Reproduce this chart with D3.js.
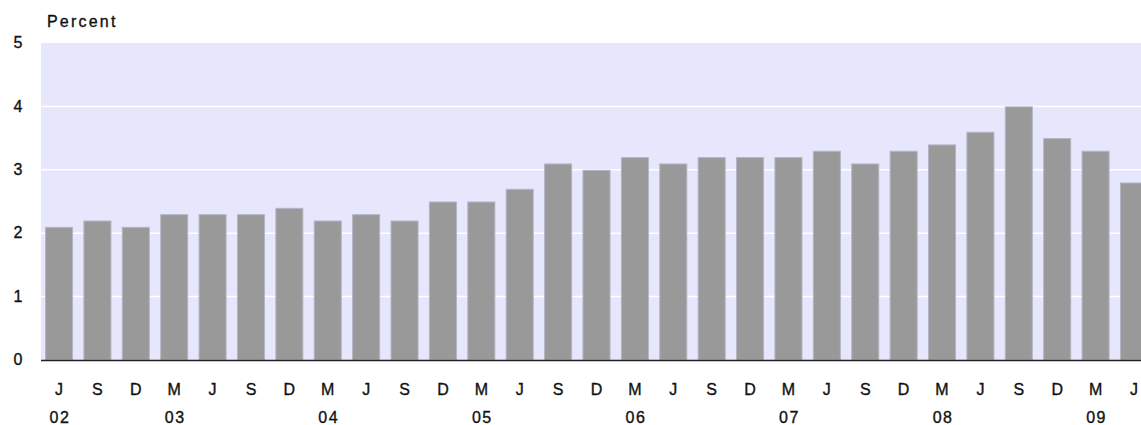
<!DOCTYPE html>
<html><head><meta charset="utf-8">
<script src="https://cdn.jsdelivr.net/npm/d3@7"></script>
<style>
body{margin:0;background:#fff;overflow:hidden;}
svg{display:block;}
text{font-family:"Liberation Sans",Arial,sans-serif;fill:#111;stroke:#111;stroke-width:0.35px;}
</style></head>
<body><svg id="c" width="1141" height="425"></svg>
<script>
const months = ["J","S","D","M","J","S","D","M","J","S","D","M","J","S","D","M","J","S","D","M","J","S","D","M","J","S","D","M","J"];
const years = ["02","","","03","","","","04","","","","05","","","","06","","","","07","","","","08","","","","09",""];
const values = [2.1,2.2,2.1,2.3,2.3,2.3,2.4,2.2,2.3,2.2,2.5,2.5,2.7,3.1,3.0,3.2,3.1,3.2,3.2,3.2,3.3,3.1,3.3,3.4,3.6,4.0,3.5,3.3,2.8];
const yTicks = [0,1,2,3,4,5];

const svg = d3.select("#c");
const plotLeft = 41, plotTop = 43, plotBottom = 360;
const x = d3.scaleBand().domain(d3.range(values.length)).range([45, 1148]).paddingInner(0.27).paddingOuter(0);
const y = d3.scaleLinear().domain([0,5]).range([plotBottom, plotTop]);

svg.append("rect").attr("x", plotLeft).attr("y", plotTop).attr("width", 1141-plotLeft).attr("height", plotBottom-plotTop).attr("fill", "#e6e6fc");

svg.append("g").selectAll("line").data(yTicks.filter(d=>d>0 && d<5)).join("line")
  .attr("x1", plotLeft).attr("x2", 1141).attr("y1", d=>y(d)).attr("y2", d=>y(d))
  .attr("stroke", "#fff").attr("stroke-width", 1.5);

svg.append("g").selectAll("rect").data(values).join("rect")
  .attr("x", (d,i)=>x(i)+0.5).attr("width", x.bandwidth()-1)
  .attr("y", d=>y(d)+0.5).attr("height", d=>plotBottom-y(d)-0.5)
  .attr("fill", "#999999").attr("stroke", "#b4b4c4").attr("stroke-width", 1);

svg.append("line").attr("x1", plotLeft).attr("x2", 1141).attr("y1", plotBottom+0.5).attr("y2", plotBottom+0.5).attr("stroke", "#222").attr("stroke-width", 1.5);

svg.append("g").selectAll("text").data(yTicks).join("text")
  .attr("x", 18).attr("y", d=>y(d)).attr("dy", "0.33em").attr("text-anchor", "middle")
  .attr("font-size", 16).text(d=>d);

svg.append("text").attr("x", 47).attr("y", 27).attr("font-size", 16).attr("letter-spacing", 2.2).text("Percent");

svg.append("g").selectAll("text").data(months).join("text")
  .attr("x", (d,i)=>x(i)+x.bandwidth()/2).attr("y", 395).attr("text-anchor", "middle")
  .attr("font-size", 16).text(d=>d);

svg.append("g").selectAll("text").data(years).join("text")
  .attr("x", (d,i)=>x(i)+x.bandwidth()/2 + 1).attr("y", 423).attr("text-anchor", "middle")
  .attr("font-size", 16).attr("letter-spacing", 1.5).text(d=>d);
</script></body></html>
